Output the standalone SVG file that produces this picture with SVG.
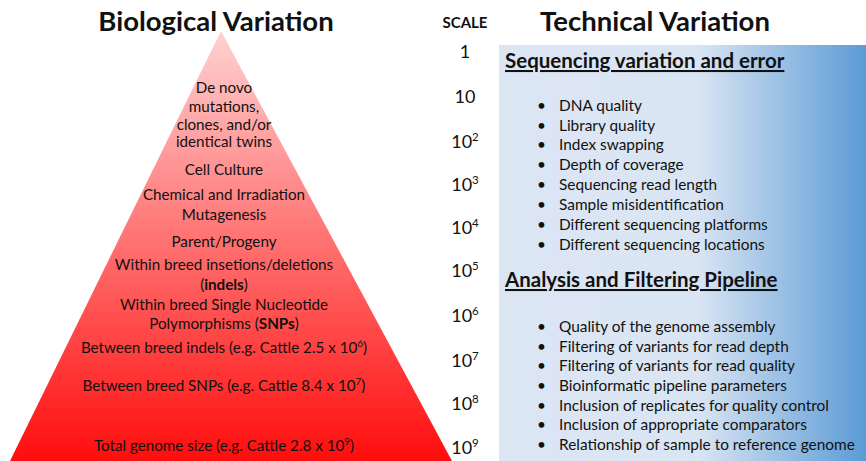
<svg xmlns="http://www.w3.org/2000/svg" width="866" height="461" viewBox="0 0 866 461">
<defs>
<linearGradient id="redGrad" x1="0" y1="31" x2="0" y2="461" gradientUnits="userSpaceOnUse">
<stop offset="0" stop-color="#ffd2d2"/>
<stop offset="1" stop-color="#ff0d0d"/>
</linearGradient>
<linearGradient id="blueGrad" x1="499" y1="0" x2="866" y2="0" gradientUnits="userSpaceOnUse">
<stop offset="0" stop-color="#dce6f3"/>
<stop offset="0.54" stop-color="#dae5f3"/>
<stop offset="1" stop-color="#5b9bd5"/>
</linearGradient>
<style>
text{font-family:Lato,"Liberation Sans",sans-serif;fill:#111;}
.title{font-size:27.5px;font-weight:bold;text-anchor:middle;}
.scaleh{font-size:15px;font-weight:bold;text-anchor:middle;}
.num{font-size:18px;text-anchor:middle;}
.pyr{font-size:15.2px;text-anchor:middle;}
.head{font-size:20.5px;font-weight:bold;text-decoration:underline;}
.item{font-size:15.4px;}
.sup{font-size:10px;}
.nsup{font-size:11.5px;}
</style>
</defs>

<g id="pyramid">
<polygon points="221,31 452,461 10,461" fill="url(#redGrad)"/>
<text class="pyr" x="224" y="93">De novo</text>
<text class="pyr" x="224" y="112">mutations,</text>
<text class="pyr" x="224" y="130">clones, and/or</text>
<text class="pyr" x="224" y="147">identical twins</text>
<text class="pyr" x="224" y="175">Cell Culture</text>
<text class="pyr" x="224" y="200">Chemical and Irradiation</text>
<text class="pyr" x="224" y="220">Mutagenesis</text>
<text class="pyr" x="224" y="247">Parent/Progeny</text>
<text class="pyr" x="224" y="270">Within breed insetions/deletions</text>
<text class="pyr" x="224" y="290">(<tspan font-weight="bold">indels</tspan>)</text>
<text class="pyr" x="224" y="310">Within breed Single Nucleotide</text>
<text class="pyr" x="224" y="329">Polymorphisms (<tspan font-weight="bold">SNPs</tspan>)</text>
<text class="pyr" x="224" y="353">Between breed indels (e.g. Cattle 2.5 x 10<tspan class="sup" dy="-6">6</tspan><tspan dy="6">)</tspan></text>
<text class="pyr" x="224" y="391">Between breed SNPs (e.g. Cattle 8.4 x 10<tspan class="sup" dy="-6">7</tspan><tspan dy="6">)</tspan></text>
<text class="pyr" x="224" y="451">Total genome size (e.g. Cattle 2.8 x 10<tspan class="sup" dy="-6">9</tspan><tspan dy="6">)</tspan></text>
</g>

<g id="panel">
<rect x="499" y="45" width="367" height="416" fill="url(#blueGrad)"/>
</g>

<g id="titles">
<text class="title" x="216" y="31">Biological Variation</text>
<text class="scaleh" x="465" y="28">SCALE</text>
<text class="title" x="655" y="31">Technical Variation</text>
</g>

<g id="scale">
<text class="num" x="465" y="58">1</text>
<text class="num" x="465" y="103">10</text>
<text class="num" x="465" y="148">10<tspan class="nsup" dy="-7">2</tspan></text>
<text class="num" x="465" y="191">10<tspan class="nsup" dy="-7">3</tspan></text>
<text class="num" x="465" y="234">10<tspan class="nsup" dy="-7">4</tspan></text>
<text class="num" x="465" y="277">10<tspan class="nsup" dy="-7">5</tspan></text>
<text class="num" x="465" y="322">10<tspan class="nsup" dy="-7">6</tspan></text>
<text class="num" x="465" y="367">10<tspan class="nsup" dy="-7">7</tspan></text>
<text class="num" x="465" y="410">10<tspan class="nsup" dy="-7">8</tspan></text>
<text class="num" x="465" y="454">10<tspan class="nsup" dy="-7">9</tspan></text>
</g>

<g id="sequencing">
<text class="head" x="505" y="68">Sequencing variation and error</text>
<text class="item" x="537" y="111">•</text><text class="item" x="559" y="111">DNA quality</text>
<text class="item" x="537" y="131">•</text><text class="item" x="559" y="131">Library quality</text>
<text class="item" x="537" y="150">•</text><text class="item" x="559" y="150">Index swapping</text>
<text class="item" x="537" y="170">•</text><text class="item" x="559" y="170">Depth of coverage</text>
<text class="item" x="537" y="190">•</text><text class="item" x="559" y="190">Sequencing read length</text>
<text class="item" x="537" y="210">•</text><text class="item" x="559" y="210">Sample misidentification</text>
<text class="item" x="537" y="230">•</text><text class="item" x="559" y="230">Different sequencing platforms</text>
<text class="item" x="537" y="250">•</text><text class="item" x="559" y="250">Different sequencing locations</text>
</g>

<g id="analysis">
<text class="head" x="505" y="287">Analysis and Filtering Pipeline</text>
<text class="item" x="537" y="332">•</text><text class="item" x="559" y="332">Quality of the genome assembly</text>
<text class="item" x="537" y="352">•</text><text class="item" x="559" y="352">Filtering of variants for read depth</text>
<text class="item" x="537" y="371">•</text><text class="item" x="559" y="371">Filtering of variants for read quality</text>
<text class="item" x="537" y="391">•</text><text class="item" x="559" y="391">Bioinformatic pipeline parameters</text>
<text class="item" x="537" y="411">•</text><text class="item" x="559" y="411">Inclusion of replicates for quality control</text>
<text class="item" x="537" y="430">•</text><text class="item" x="559" y="430">Inclusion of appropriate comparators</text>
<text class="item" x="537" y="450">•</text><text class="item" x="559" y="450">Relationship of sample to reference genome</text>
</g>
</svg>
